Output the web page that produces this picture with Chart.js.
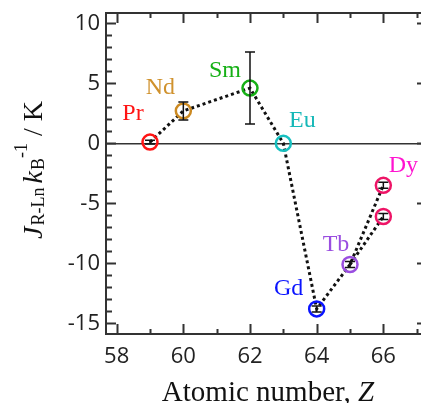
<!DOCTYPE html>
<html>
<head>
<meta charset="utf-8">
<title>J R-Ln vs Z</title>
<script src="https://cdn.jsdelivr.net/npm/chart.js@4.4.1/dist/chart.umd.min.js"></script>
<style>
    html, body { margin: 0; padding: 0; overflow: hidden; background: #fff; }
    #wrap { width: 440px; height: 403px; }
</style>
</head>
<body>
<div id="wrap"><canvas id="chartJ" width="440" height="403"></canvas></div>
<script>
// values
let elements = ['Pr', 'Nd', 'Sm', 'Eu', 'Gd', 'Tb', 'Dy', 'Dy'];
let atomicNumber = [59, 60, 62, 63, 64, 65, 66, 66];
let jValue = [0.1, 2.7, 4.6, 0.0, -13.8, -10.1, -3.5, -6.1];
let jError = [0.15, 0.75, 3.0, 0, 0.25, 0.25, 0.25, 0.25];
let path1 = [0, 1, 2, 3, 4, 5, 6];
let path2 = [5, 7];
let xTickValues = [58, 60, 62, 64, 66];
let yTickValues = [-15, -10, -5, 0, 5, 10];

// styles
let pointColor = ['#ff1414', '#cc8a22', '#16b016', '#16c0c0', '#0a14ff', '#9a4ee0', '#ee1466', '#ee1466'];
let textColor = ['#ff1414', '#d0922e', '#16b016', '#16b8b8', '#0a14ff', '#9a4ee0', '#ff14d0', null];
let labelOffset = [[-17, -22], [-23, -17], [-25, -11], [19, -16], [-28, -14], [-14, -14], [20, -13], null];

let serif = '"Liberation Serif", "Times New Roman", serif';

// the plot frame runs past the right edge of the picture
let frameRight = 427;

let toPoints = (idx) => idx.map(i => ({ x: atomicNumber[i], y: jValue[i] }));

// draws a row of text pieces centred on x, on baseline y
let drawPieces = (ctx, pieces, x, y) => {
    let total = 0;
    pieces.forEach(p => {
        ctx.font = p.font;
        total += ctx.measureText(p.t).width + (p.gap || 0);
    });
    let cx = x - total / 2;
    pieces.forEach(p => {
        ctx.font = p.font;
        ctx.fillText(p.t, cx, y + (p.dy || 0));
        cx += ctx.measureText(p.t).width + (p.gap || 0);
    });
};

let noPadding = (s) => {
    s.paddingLeft = 0;
    s.paddingRight = 0;
    s.paddingTop = 0;
    s.paddingBottom = 0;
};

let frameTicks = {
    id: 'frameTicks',
    afterDatasetsDraw(chart) {
        let ctx = chart.ctx;
        let xs = chart.scales.x;
        let ys = chart.scales.y;

        // error bars
        ctx.save();
        ctx.strokeStyle = '#111';
        ctx.lineWidth = 1.5;
        ctx.beginPath();
        for (let i = 0; i < jValue.length; i++) {
            if (jError[i] == 0) continue;
            let px = xs.getPixelForValue(atomicNumber[i]);
            let top = ys.getPixelForValue(jValue[i] + jError[i]);
            let bot = ys.getPixelForValue(jValue[i] - jError[i]);
            ctx.moveTo(px, top); ctx.lineTo(px, bot);
            ctx.moveTo(px - 5, top); ctx.lineTo(px + 5, top);
            ctx.moveTo(px - 5, bot); ctx.lineTo(px + 5, bot);
        }
        ctx.stroke();

        // element names
        ctx.font = '24px ' + serif;
        ctx.textAlign = 'center';
        ctx.textBaseline = 'alphabetic';
        for (let i = 0; i < elements.length; i++) {
            if (!labelOffset[i]) continue;
            let px = xs.getPixelForValue(atomicNumber[i]);
            let py = ys.getPixelForValue(jValue[i]);
            ctx.fillStyle = textColor[i];
            ctx.fillText(elements[i], px + labelOffset[i][0], py + labelOffset[i][1]);
        }
        ctx.restore();
    },
    afterDraw(chart) {
        let ctx = chart.ctx;
        let a = chart.chartArea;
        let xs = chart.scales.x;
        let ys = chart.scales.y;

        ctx.save();
        ctx.strokeStyle = '#333';
        ctx.lineWidth = 2;
        ctx.strokeRect(a.left, a.top, a.right - a.left, a.bottom - a.top);

        // inward ticks on all four sides
        ctx.beginPath();
        for (let v = Math.ceil(xs.min); v <= Math.floor(xs.max); v++) {
            let px = Math.round(xs.getPixelForValue(v)) + 0.5;
            let len = v % 2 == 0 ? 10 : 5;
            ctx.moveTo(px, a.bottom); ctx.lineTo(px, a.bottom - len);
            ctx.moveTo(px, a.top); ctx.lineTo(px, a.top + len);
        }
        for (let v = Math.ceil(ys.min); v <= Math.floor(ys.max); v++) {
            let py = Math.round(ys.getPixelForValue(v)) + 0.5;
            let len = v % 5 == 0 ? 10 : 6;
            ctx.moveTo(a.left, py); ctx.lineTo(a.left + len, py);
            ctx.moveTo(a.right, py); ctx.lineTo(a.right - len, py);
        }
        ctx.stroke();

        // axis titles
        ctx.fillStyle = '#111';
        ctx.textAlign = 'left';
        ctx.textBaseline = 'alphabetic';
        drawPieces(ctx, [
            { t: 'Atomic number, ', font: '29px ' + serif },
            { t: 'Z', font: 'italic 29px ' + serif }
        ], 268, 401);

        ctx.translate(42, 170);
        ctx.rotate(-Math.PI / 2);
        drawPieces(ctx, [
            { t: 'J', font: 'italic 28px ' + serif, gap: 1 },
            { t: 'R-Ln', font: '18px ' + serif, dy: 2, gap: 4 },
            { t: 'k', font: 'italic 28px ' + serif, gap: 1 },
            { t: 'B', font: '18px ' + serif, dy: 2 },
            { t: '-1', font: '18px ' + serif, dy: -15 },
            { t: ' / K', font: '28px ' + serif }
        ], 0, 0);
        ctx.restore();
    }
};

let contextJ = document.querySelector('#chartJ').getContext('2d');

let config = {
    type: 'scatter',
    data: {
        datasets: [{
            label: 'points',
            data: toPoints(elements.map((e, i) => i)),
            pointRadius: 7.5,
            pointHoverRadius: 7.5,
            pointBorderWidth: 2.5,
            pointBorderColor: pointColor,
            pointBackgroundColor: 'rgba(0,0,0,0)',
            showLine: false
        }, {
            label: 'path1',
            data: toPoints(path1),
            showLine: true,
            borderColor: '#111',
            borderWidth: 3,
            borderDash: [3, 3],
            pointRadius: 0,
            tension: 0
        }, {
            label: 'path2',
            data: toPoints(path2),
            showLine: true,
            borderColor: '#111',
            borderWidth: 3,
            borderDash: [3, 3],
            pointRadius: 0,
            tension: 0
        }]
    },
    options: {
        responsive: false,
        animation: false,
        devicePixelRatio: 1,
        layout: { padding: { top: 13, right: 13, left: 0, bottom: 0 } },
        plugins: {
            legend: { display: false },
            tooltip: { enabled: false }
        },
        scales: {
            x: {
                type: 'linear',
                min: 57.68,
                max: 67.31,
                afterBuildTicks: (s) => { s.ticks = xTickValues.map(v => ({ value: v })); },
                afterFit: (s) => { s.height = 69; noPadding(s); },
                grid: { display: false },
                border: { display: false },
                ticks: {
                    color: '#222',
                    padding: 2,
                    font: { family: '"Open Sans", "Noto Sans", sans-serif', size: 22 }
                }
            },
            y: {
                type: 'linear',
                min: -15.89,
                max: 10.86,
                afterBuildTicks: (s) => { s.ticks = yTickValues.map(v => ({ value: v })); },
                afterFit: (s) => { s.width = 106; noPadding(s); },
                grid: {
                    drawTicks: false,
                    lineWidth: 1.5,
                    color: (c) => (c.tick && c.tick.value === 0) ? '#333' : 'rgba(0,0,0,0)'
                },
                border: { display: false },
                ticks: {
                    color: '#222',
                    padding: 6,
                    font: { family: '"Open Sans", "Noto Sans", sans-serif', size: 22 }
                }
            }
        }
    },
    plugins: [frameTicks]
};

let chartJ = new Chart(contextJ, config);

// nudge the right padding so the frame lands where it is in the figure
let diff = chartJ.chartArea.right - frameRight;
if (Math.abs(diff) > 0.5) {
    chartJ.options.layout.padding.right += diff;
    chartJ.update();
}
</script>
</body>
</html>
